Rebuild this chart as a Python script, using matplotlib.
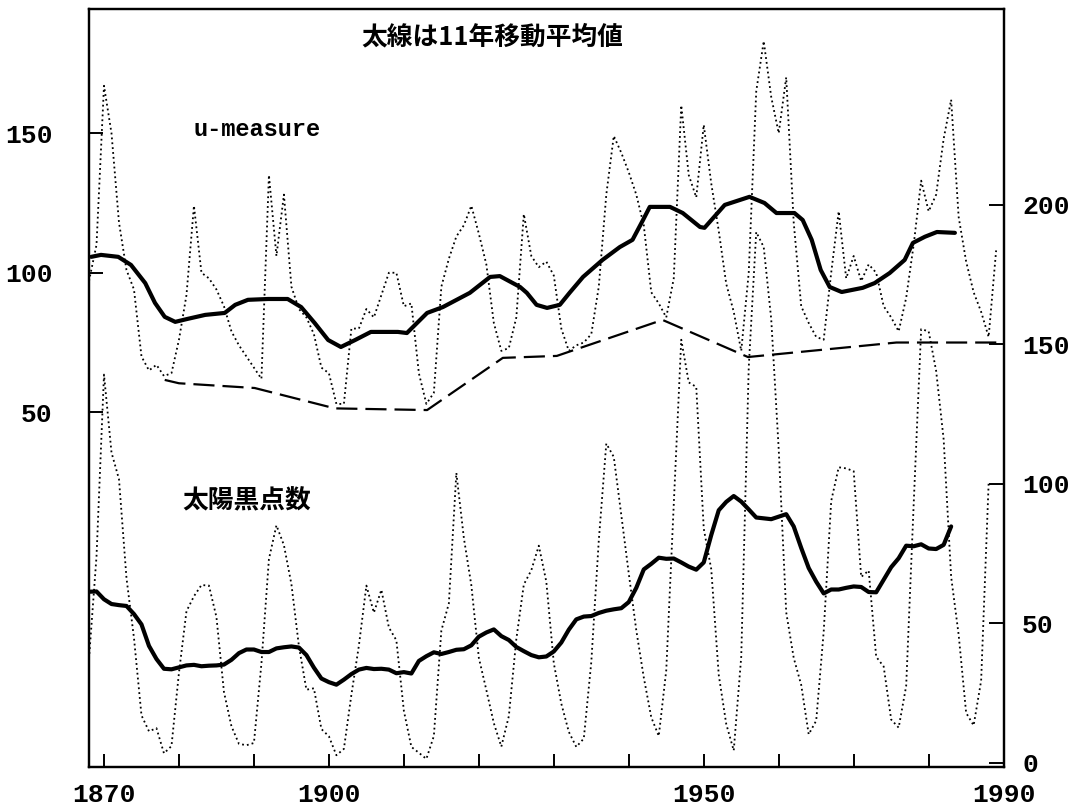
import matplotlib
matplotlib.use("Agg")
import matplotlib.pyplot as plt
from matplotlib.font_manager import FontProperties

plt.rcParams['font.family'] = ['Noto Sans CJK JP', 'DejaVu Sans']

# ---- annual mean sunspot number (right axis) ----
sunspot_years = list(range(1868, 1989))
sunspot = [
    37.3, 73.9, 139.1, 111.2, 101.6, 66.2, 44.7, 17.0, 11.3, 12.4,
    3.4, 6.0, 32.3, 54.3, 59.7, 63.7, 63.5, 52.2, 25.4, 13.1,
    6.8, 6.3, 7.1, 35.6, 73.0, 85.1, 78.0, 64.0, 41.8, 26.2,
    26.7, 12.1, 9.5, 2.7, 5.0, 24.4, 42.0, 63.5, 53.8, 62.0,
    48.5, 43.9, 18.6, 5.7, 3.6, 1.4, 9.6, 47.4, 57.1, 103.9,
    80.6, 63.6, 37.6, 26.1, 14.2, 5.8, 16.7, 44.3, 63.9, 69.0,
    77.8, 64.9, 35.7, 21.2, 11.1, 5.7, 8.7, 36.1, 79.7, 114.4,
    109.6, 88.8, 67.8, 47.5, 30.6, 16.3, 9.6, 33.2, 92.6, 151.6,
    136.3, 134.7, 83.9, 69.4, 31.5, 13.9, 4.4, 38.0, 141.7, 190.2,
    184.8, 159.0, 112.3, 53.9, 37.6, 27.9, 10.2, 15.1, 47.0, 93.8,
    105.9, 105.5, 104.5, 66.6, 68.9, 38.0, 34.5, 15.5, 12.6, 27.5,
    92.5, 155.4, 154.6, 140.4, 115.9, 66.6, 45.9, 17.9, 13.4, 29.4,
    100.2,
]

# ---- 11-year running mean of the sunspot number (thick line) ----
sunspot_ma_years = list(range(1868, 1984))
sunspot_ma = [
    61.3, 61.4, 58.6, 56.9, 56.5, 56.2, 53.3, 49.6, 41.9, 37.2,
    33.7, 33.5, 34.2, 34.9, 35.1, 34.6, 34.8, 34.9, 35.2, 36.9,
    39.3, 40.6, 40.6, 39.7, 39.7, 41.0, 41.4, 41.7, 41.3, 38.6,
    34.1, 30.2, 28.9, 28.0, 29.8, 31.8, 33.4, 34.0, 33.6, 33.7,
    33.4, 32.1, 32.5, 32.0, 36.5, 38.2, 39.6, 39.0, 39.7, 40.5,
    40.7, 42.1, 45.2, 46.7, 47.8, 45.4, 44.0, 41.5, 40.0, 38.6,
    37.8, 38.1, 39.9, 43.1, 47.7, 51.4, 52.4, 52.6, 53.7, 54.5,
    55.0, 55.4, 57.6, 62.7, 69.3, 71.3, 73.5, 73.1, 73.2, 71.8,
    70.3, 69.2, 71.8, 81.6, 90.5, 93.5, 95.6, 93.6, 90.8, 87.9,
    87.6, 87.3, 88.2, 89.1, 84.7, 77.0, 69.8, 64.9, 60.7, 62.1,
    62.1, 62.7, 63.2, 63.0, 61.2, 61.1, 65.6, 70.1, 73.3, 77.8,
    77.6, 78.3, 76.8, 76.6, 78.1, 84.7,
]

# ---- annual u-measure of geomagnetic activity (left axis) ----
u_years = list(range(1868, 1990))
u_measure = [
    97, 110, 167, 150, 118, 101, 94, 70, 65, 67,
    63, 64, 76, 92, 124, 100, 98, 94, 88, 79,
    74, 70, 66, 62, 135, 106, 128, 95, 87, 84,
    78, 66, 64, 53, 53, 80, 80, 87, 84, 92,
    100, 100, 88, 89, 64, 53, 57, 95, 105, 113,
    117, 124, 114, 103, 82, 72, 73, 84, 121, 106,
    102, 104, 99, 80, 72, 74, 75, 78, 95, 128,
    149, 143, 136, 128, 117, 93, 89, 84, 98, 160,
    135, 127, 153, 132, 115, 96, 86, 72, 100, 165,
    183, 163, 150, 170, 118, 88, 82, 77, 76, 100,
    122, 98, 106, 97, 103, 100, 88, 84, 79, 91,
    110, 133, 122, 128, 148, 162, 120, 104, 93, 86,
    77, 108,
]

# ---- 11-year running mean of the u-measure (thick line) ----
u_ma_years = [
    1868.3, 1869.6, 1871.9, 1873.6, 1875.5, 1876.8, 1878.1, 1879.5, 1881.2, 1883.5,
    1886.1, 1887.5, 1889.2, 1891.9, 1894.5, 1896.3, 1898.1, 1899.9, 1901.6, 1903.5,
    1905.6, 1909.2, 1910.4, 1913.1, 1915.2, 1918.8, 1921.5, 1922.8, 1925.5, 1926.4,
    1927.7, 1929.1, 1930.8, 1932.1, 1933.9, 1936.5, 1938.8, 1940.5, 1941.9, 1942.8,
    1945.5, 1947.2, 1949.5, 1950.1, 1952.8, 1956.1, 1958.1, 1959.7, 1962.1, 1963.2,
    1964.4, 1965.6, 1966.8, 1968.4, 1971.2, 1972.8, 1974.8, 1976.8, 1977.9, 1979.5,
    1981.1, 1983.5,
]
u_ma = [
    105.7, 106.4, 105.7, 102.8, 96.3, 89.2, 84.2, 82.4, 83.5, 84.9,
    85.6, 88.5, 90.3, 90.6, 90.6, 87.7, 82.0, 75.9, 73.4, 75.9,
    78.8, 78.8, 78.4, 85.6, 87.7, 92.8, 98.5, 98.8, 94.9, 92.8,
    88.5, 87.4, 88.5, 92.8, 98.5, 104.6, 109.2, 111.8, 118.9, 123.6,
    123.6, 121.4, 116.4, 116.1, 124.3, 127.2, 125.0, 121.4, 121.4, 118.9,
    111.8, 101.0, 94.9, 93.1, 94.6, 96.3, 99.9, 104.6, 110.7, 112.9,
    114.6, 114.3,
]

# ---- lower envelope joining the u-measure minima (dashed) ----
env_years = [1878.1, 1880.0, 1890.1, 1900.8, 1913.1, 1923.2, 1930.4, 1944.5, 1955.9, 1975.7, 1990.0]
env = [61.6, 60.4, 58.7, 51.4, 50.8, 69.5, 70.2, 83.1, 69.8, 75.0, 75.0]

# ---- axis ticks and labels ----
decade_ticks = list(range(1870, 1991, 10))
x_label_years = [1870, 1900, 1950, 1990]
left_ticks = [50, 100, 150]
right_ticks = [0, 50, 100, 150, 200]

title_text = "太線は11年移動平均値"
u_label = "u-measure"
sunspot_label = "太陽黒点数"

W, H = 1074, 810
fig = plt.figure(figsize=(W / 100, H / 100), dpi=100)
fig.patch.set_facecolor("white")
ax = fig.add_axes([89 / W, 43 / H, 915 / W, 757.7 / H])
ax2 = ax.twinx()

dotted = (0, (1.0, 1.7))
dashed = (0, (9.5, 3.6))

ax.plot(u_years, u_measure, color="black", lw=1.3, linestyle=dotted,
        dash_capstyle="butt", zorder=2)
ax.plot(env_years, env, color="black", lw=1.6, linestyle=dashed, zorder=3)
ax.plot(u_ma_years, u_ma, color="black", lw=3.0,
        solid_capstyle="round", solid_joinstyle="round", zorder=4)

ax2.plot(sunspot_years, sunspot, color="black", lw=1.3, linestyle=dotted,
         dash_capstyle="butt", zorder=2)
ax2.plot(sunspot_ma_years, sunspot_ma, color="black", lw=3.0,
         solid_capstyle="round", solid_joinstyle="round", zorder=4)

ax.set_xlim(1868.0, 1990.05)
ax.set_ylim(-77.1, 194.4)
ax2.set_ylim(-1.5, 270.0)

tick_font = FontProperties(family="Liberation Mono", weight="bold", size=19)

ax.set_xticks(decade_ticks)
ax.set_xticklabels([str(y) if y in x_label_years else "" for y in decade_ticks])
ax.tick_params(axis="x", direction="in", length=9.5, width=1.4, pad=11.5, top=False)

ax.set_yticks(left_ticks)
ax.set_yticklabels([str(v) for v in left_ticks])
ax.tick_params(axis="y", direction="in", length=10, width=1.4, pad=26)

ax2.set_yticks(right_ticks)
ax2.set_yticklabels([str(v) for v in right_ticks])
ax2.tick_params(axis="y", direction="in", length=11, width=1.4, pad=13)

for lab in ax.get_xticklabels() + ax.get_yticklabels() + ax2.get_yticklabels():
    lab.set_fontproperties(tick_font)

for a in (ax, ax2):
    for sp in a.spines.values():
        sp.set_linewidth(1.6)
        sp.set_color("black")

ax.text(0.4405, 0.9634, title_text, transform=ax.transAxes, ha="center", va="center",
        fontsize=18.5, fontweight="bold", family=["Noto Sans CJK JP", "DejaVu Sans"])
ax.text(0.1836, 0.8420, u_label, transform=ax.transAxes, ha="center", va="center",
        fontproperties=FontProperties(family="Liberation Mono", weight="bold", size=17))
ax.text(0.1721, 0.3511, sunspot_label, transform=ax.transAxes, ha="center", va="center",
        fontsize=18.5, fontweight="bold", family=["Noto Sans CJK JP", "DejaVu Sans"])

fig.savefig("out.png", dpi=100)
